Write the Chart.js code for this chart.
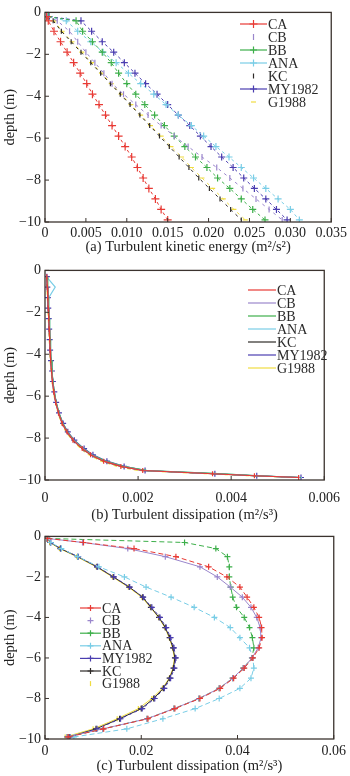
<!DOCTYPE html>
<html>
<head>
<meta charset="utf-8">
<script src="https://cdn.jsdelivr.net/npm/chart.js@4.4.1/dist/chart.umd.min.js"></script>
<style>
  html, body { margin: 0; padding: 0; background: #fff; }
  canvas { position: absolute; left: 0; }
</style>
</head>
<body>
<canvas id="chartA" width="350" height="258" style="top:0"></canvas>
<canvas id="chartB" width="350" height="266" style="top:258px"></canvas>
<canvas id="chartC" width="350" height="252" style="top:524px"></canvas>
<script>
// (a) turbulent kinetic energy, depth in m
const depthA = [-0.2,-0.4,-0.9,-1.4,-1.9,-2.4,-2.9,-3.4,-3.9,-4.4,-4.9,-5.4,-5.9,-6.4,-6.9,-7.4,-7.9,-8.4,-8.9,-9.4,-9.9];
const tkeCA  = [0.0002,0.0004,0.0011,0.0019,0.0027,0.0035,0.0043,0.0051,0.0058,0.0066,0.0074,0.0082,0.0090,0.0098,0.0106,0.0113,0.0120,0.0127,0.0135,0.0142,0.0150];
const tkeCB  = [0.0003,0.0015,0.0030,0.0040,0.0050,0.0061,0.0072,0.0082,0.0096,0.0111,0.0126,0.0142,0.0158,0.0175,0.0192,0.0210,0.0226,0.0242,0.0258,0.0274,0.0290];
const tkeBB  = [0.0004,0.0038,0.0046,0.0058,0.0070,0.0081,0.0090,0.0100,0.0111,0.0122,0.0134,0.0146,0.0158,0.0171,0.0184,0.0198,0.0211,0.0226,0.0240,0.0254,0.0269];
const tkeANA = [0.0004,0.0026,0.0040,0.0056,0.0071,0.0087,0.0102,0.0117,0.0133,0.0148,0.0163,0.0179,0.0194,0.0209,0.0225,0.0240,0.0255,0.0270,0.0285,0.0300,0.0311];
const tkeKC  = [0.0003,0.0010,0.0020,0.0032,0.0044,0.0056,0.0068,0.0080,0.0092,0.0104,0.0116,0.0128,0.0140,0.0152,0.0164,0.0176,0.0188,0.0201,0.0214,0.0227,0.0240];
const tkeMY  = [0.0005,0.0044,0.0057,0.0070,0.0084,0.0097,0.0110,0.0123,0.0137,0.0150,0.0163,0.0177,0.0190,0.0203,0.0216,0.0230,0.0243,0.0256,0.0270,0.0283,0.0296];
const tkeG   = [0.0003,0.0011,0.0021,0.0033,0.0045,0.0057,0.0069,0.0081,0.0093,0.0105,0.0117,0.0129,0.0142,0.0154,0.0167,0.0179,0.0192,0.0205,0.0218,0.0231,0.0245];

// (b) turbulent dissipation, first case
const depthB = [-0.3,-0.8,-1.3,-1.8,-2.3,-2.8,-3.3,-3.8,-4.3,-4.8,-5.3,-5.8,-6.3,-6.8,-7.3,-7.7,-8.1,-8.5,-8.8,-9.1,-9.35,-9.55,-9.7,-9.8,-9.88];
const epsbCA  = [0.00004,0.00005,0.00006,0.00007,0.00008,0.00009,0.00010,0.00011,0.00012,0.00014,0.00016,0.00019,0.00023,0.00029,0.00037,0.00047,0.00060,0.00080,0.00098,0.00126,0.00163,0.00210,0.00360,0.00450,0.00545];
const epsbCB  = [0.00004,0.00005,0.00006,0.00007,0.00008,0.00009,0.00010,0.00011,0.00012,0.00014,0.00016,0.00019,0.00023,0.00029,0.00037,0.00047,0.00061,0.00081,0.00099,0.00127,0.00164,0.00212,0.00362,0.00452,0.00548];
const epsbBB  = [0.00005,0.00006,0.00007,0.00008,0.00009,0.00010,0.00011,0.00012,0.00013,0.00015,0.00017,0.00020,0.00024,0.00030,0.00038,0.00048,0.00062,0.00082,0.00100,0.00130,0.00168,0.00220,0.00372,0.00460,0.00550];
const epsbANA = [0.00003,0.00022,0.00008,0.00008,0.00009,0.00010,0.00011,0.00012,0.00013,0.00015,0.00017,0.00020,0.00024,0.00030,0.00038,0.00048,0.00062,0.00082,0.00100,0.00130,0.00168,0.00218,0.00370,0.00458,0.00552];
const epsbKC  = [0.00004,0.00005,0.00006,0.00007,0.00008,0.00009,0.00010,0.00011,0.00012,0.00014,0.00016,0.00019,0.00023,0.00029,0.00037,0.00047,0.00060,0.00080,0.00098,0.00126,0.00163,0.00210,0.00360,0.00450,0.00545];
const epsbMY  = [0.00004,0.00005,0.00006,0.00007,0.00008,0.00009,0.00010,0.00011,0.00013,0.00015,0.00017,0.00020,0.00024,0.00030,0.00039,0.00049,0.00063,0.00084,0.00103,0.00133,0.00170,0.00215,0.00365,0.00455,0.00550];
const epsbG   = [0.00003,0.00004,0.00005,0.00006,0.00007,0.00008,0.00009,0.00010,0.00011,0.00013,0.00015,0.00018,0.00022,0.00028,0.00035,0.00045,0.00058,0.00077,0.00094,0.00120,0.00155,0.00200,0.00345,0.00440,0.00540];

// (c) turbulent dissipation, second case
const depthC = [-0.1,-0.3,-0.6,-1.0,-1.5,-2.0,-2.5,-3.0,-3.5,-4.0,-4.5,-5.0,-5.5,-6.0,-6.5,-7.0,-7.5,-8.0,-8.5,-9.0,-9.5,-9.9];
const epscCA  = [0.0005,0.0080,0.0185,0.0272,0.0340,0.0378,0.0405,0.0420,0.0434,0.0445,0.0450,0.0451,0.0445,0.0432,0.0414,0.0392,0.0364,0.0322,0.0270,0.0214,0.0122,0.0048];
const epscCB  = [0.0005,0.0078,0.0172,0.0250,0.0322,0.0358,0.0385,0.0410,0.0428,0.0440,0.0447,0.0449,0.0443,0.0430,0.0412,0.0390,0.0362,0.0320,0.0268,0.0212,0.0120,0.0046];
const epscBB  = [0.0005,0.0290,0.0355,0.0379,0.0383,0.0383,0.0386,0.0390,0.0398,0.0414,0.0425,0.0431,0.0434,0.0430,0.0412,0.0390,0.0362,0.0320,0.0268,0.0212,0.0120,0.0046];
const epscANA = [0.0004,0.0012,0.0034,0.0068,0.0112,0.0165,0.0210,0.0262,0.0310,0.0352,0.0385,0.0405,0.0425,0.0432,0.0434,0.0428,0.0405,0.0362,0.0312,0.0245,0.0170,0.0060];
const epscMY  = [0.0004,0.0012,0.0033,0.0069,0.0109,0.0143,0.0176,0.0204,0.0222,0.0239,0.0252,0.0261,0.0268,0.0272,0.0269,0.0261,0.0248,0.0228,0.0202,0.0157,0.0108,0.0052];
const epscKC  = [0.0004,0.0011,0.0032,0.0068,0.0108,0.0142,0.0175,0.0203,0.0220,0.0237,0.0250,0.0259,0.0266,0.0270,0.0267,0.0259,0.0246,0.0226,0.0200,0.0155,0.0106,0.0050];
const epscG   = [0.0004,0.0010,0.0030,0.0066,0.0106,0.0140,0.0173,0.0201,0.0219,0.0236,0.0249,0.0258,0.0265,0.0269,0.0266,0.0258,0.0244,0.0222,0.0194,0.0150,0.0100,0.0042];

const colors = {
  CA: '#e83a34', CB: '#9a86cc', BB: '#3daf4a', ANA: '#79cde6',
  KC: '#2e2a28', MY1982: '#4a3db0', G1988: '#f0dc40'
};

Chart.defaults.font.family = "'Liberation Serif', 'DejaVu Serif', serif";
Chart.defaults.color = '#222';

// build one scatter-with-line dataset
function series(label, xs, depths, look) {
  return {
    label: label,
    data: xs.map((x, i) => ({ x: x, y: depths[i] })),
    showLine: true,
    borderColor: colors[label],
    backgroundColor: colors[label],
    borderWidth: look.width || 1,
    borderDash: look.dash || [],
    pointStyle: look.marker || false,
    pointRadius: look.marker ? (look.r || 3) : 0,
    pointRotation: look.rot || 0,
    pointBorderWidth: 1.2,
    legendLine: look.legendLine !== false,
    legendMarker: look.legendMarker !== false
  };
}

// frame around plot, inward ticks and the legend drawn inside the plot area
const frame = {
  id: 'frame',
  afterDraw(chart, args, opts) {
    const { ctx, chartArea: a, scales } = chart;
    ctx.save();
    ctx.strokeStyle = '#3b332e';
    ctx.lineWidth = 1.3;
    ctx.strokeRect(a.left, a.top, a.right - a.left, a.bottom - a.top);
    ctx.lineWidth = 1;
    scales.x.ticks.forEach(t => {
      const px = scales.x.getPixelForValue(t.value);
      ctx.beginPath(); ctx.moveTo(px, a.bottom); ctx.lineTo(px, a.bottom - 4); ctx.stroke();
    });
    scales.y.ticks.forEach(t => {
      const py = scales.y.getPixelForValue(t.value);
      ctx.beginPath(); ctx.moveTo(a.left, py); ctx.lineTo(a.left + 4, py); ctx.stroke();
    });

    ctx.font = "14px 'Liberation Serif', serif";
    ctx.textBaseline = 'middle';
    chart.data.datasets.forEach((ds, i) => {
      const y = opts.y + i * opts.gap;
      ctx.strokeStyle = ds.borderColor;
      ctx.fillStyle = ds.borderColor;
      ctx.lineWidth = 1.2;
      if (ds.legendLine) {
        ctx.beginPath(); ctx.moveTo(opts.x0, y); ctx.lineTo(opts.x1, y); ctx.stroke();
      }
      if (ds.legendMarker && ds.pointStyle) {
        Chart.helpers.drawPoint(ctx, {
          pointStyle: ds.pointStyle, radius: ds.pointRadius,
          rotation: ds.pointRotation, borderWidth: 1.2
        }, (opts.x0 + opts.x1) / 2, y);
      }
      ctx.fillStyle = '#2a2a2a';
      ctx.fillText(ds.label, opts.x1 + 1, y + 1);
    });
    ctx.restore();
  }
};

function depthAxis(titlePad) {
  return {
    type: 'linear', min: -10, max: 0,
    grid: { display: false, drawTicks: false }, border: { display: false },
    ticks: {
      stepSize: 2, padding: 4, font: { size: 14 },
      callback: v => v === 0 ? '0' : '\u2212' + Math.abs(v)
    },
    title: { display: true, text: 'depth (m)', font: { size: 14.5 }, padding: { top: titlePad, bottom: 0 } },
    afterFit: s => { s.width = 45; }
  };
}

function valueAxis(max, step, digits, title, tickPad, titlePad, height) {
  return {
    type: 'linear', min: 0, max: max,
    grid: { display: false, drawTicks: false }, border: { display: false },
    ticks: {
      stepSize: step, padding: tickPad, font: { size: 14 }, maxRotation: 0,
      callback: v => v === 0 ? '0' : v.toFixed(digits)
    },
    title: { display: true, text: title, font: { size: 14.5 }, padding: { top: 0, bottom: titlePad } },
    afterFit: s => { s.height = height; }
  };
}

function makeChart(id, datasets, xAxis, topPad, legend) {
  new Chart(document.getElementById(id), {
    type: 'scatter',
    data: { datasets: datasets },
    options: {
      responsive: false,
      animation: false,
      layout: { padding: { top: topPad, right: 15, left: 0, bottom: 0 } },
      plugins: { legend: { display: false }, tooltip: { enabled: false }, frame: legend },
      scales: { x: xAxis, y: depthAxis(1) }
    },
    plugins: [frame]
  });
}

// (a)
makeChart('chartA', [
  series('CA', tkeCA, depthA, { marker: 'cross', r: 4, dash: [3, 3] }),
  series('CB', tkeCB, depthA, { marker: 'line', r: 3, rot: 90, dash: [3, 4], legendLine: false }),
  series('BB', tkeBB, depthA, { marker: 'cross', r: 3.5, dash: [3, 3] }),
  series('ANA', tkeANA, depthA, { marker: 'cross', r: 3.5, dash: [3, 3] }),
  series('KC', tkeKC, depthA, { marker: 'line', r: 2.5, rot: 90, dash: [3, 4], legendLine: false }),
  series('MY1982', tkeMY, depthA, { marker: 'cross', r: 3.5, dash: [3, 3] }),
  series('G1988', tkeG, depthA, { marker: 'line', r: 2.5, dash: [3, 4], legendLine: false })
], valueAxis(0.035, 0.005, 3, '(a) Turbulent kinetic energy (m\u00b2/s\u00b2)', 3, 2, 36), 7,
  { x0: 240, x1: 267, y: 24, gap: 13 });

// (b)
makeChart('chartB', [
  series('CA', epsbCA, depthB, { marker: 'line', r: 2.5, rot: 90, width: 1.1, legendMarker: false }),
  series('CB', epsbCB, depthB, { width: 1.1 }),
  series('BB', epsbBB, depthB, { width: 1.2 }),
  series('ANA', epsbANA, depthB, { width: 1.2 }),
  series('KC', epsbKC, depthB, { width: 1.1 }),
  series('MY1982', epsbMY, depthB, { marker: 'cross', r: 3, width: 1.1, legendMarker: false }),
  series('G1988', epsbG, depthB, { width: 1.1, dash: [4, 3] })
], valueAxis(0.006, 0.002, 3, '(b) Turbulent dissipation (m\u00b2/s\u00b3)', 10, 0, 44), 9,
  { x0: 248, x1: 276, y: 32, gap: 13 });

// (c)
makeChart('chartC', [
  series('CA', epscCA, depthC, { marker: 'cross', r: 3, dash: [5, 3] }),
  series('CB', epscCB, depthC, { marker: 'cross', r: 3, legendLine: false }),
  series('BB', epscBB, depthC, { marker: 'cross', r: 3, dash: [5, 3] }),
  series('ANA', epscANA, depthC, { marker: 'cross', r: 3, dash: [5, 3] }),
  series('MY1982', epscMY, depthC, { marker: 'cross', r: 3, dash: [3, 3] }),
  series('KC', epscKC, depthC, { marker: 'cross', r: 3 }),
  series('G1988', epscG, depthC, { marker: 'line', r: 2.5, rot: 90, legendLine: false })
], valueAxis(0.06, 0.02, 2, '(c) Turbulent dissipation (m\u00b2/s\u00b3)', 4, 1, 37), 4,
  { x0: 80, x1: 101, y: 84, gap: 12.6 });
</script>
</body>
</html>
